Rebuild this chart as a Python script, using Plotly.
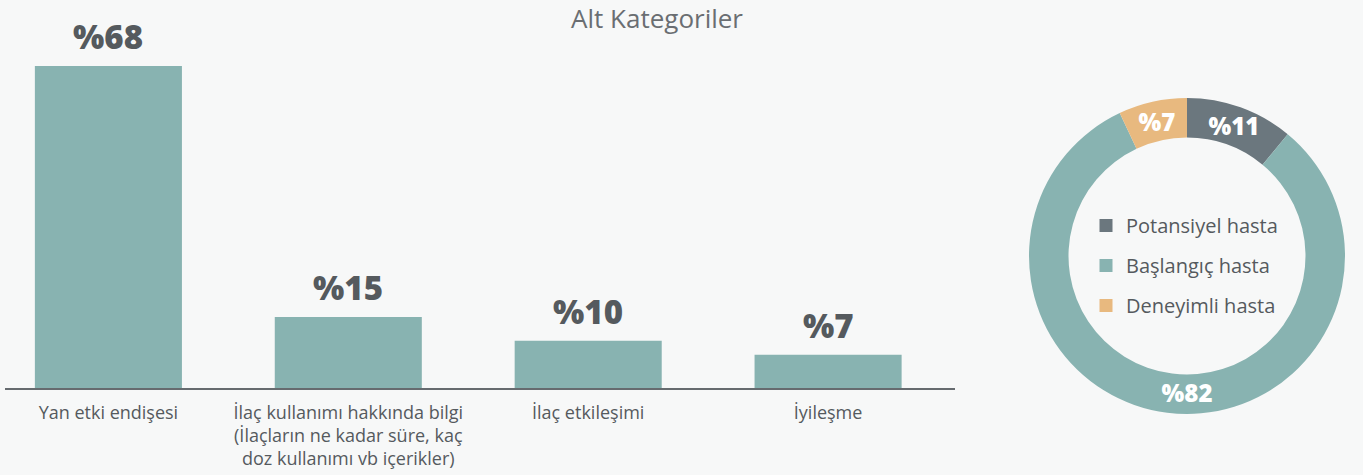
import plotly.graph_objects as go

# ---- data ----
bar_categories = [
    "Yan etki endişesi",
    "İlaç kullanımı hakkında bilgi<br>(İlaçların ne kadar süre, kaç<br>doz kullanımı vb içerikler)",
    "İlaç etkileşimi",
    "İyileşme",
]
bar_values = [68, 15, 10, 7]

pie_labels = ["Potansiyel hasta", "Başlangıç hasta", "Deneyimli hasta"]
pie_values = [11, 82, 7]

title_text = "Alt Kategoriler"

# ---- style ----
FONT = "Open Sans"
BG = "#f7f8f8"
TEAL = "#88b3b1"
DARK = "#6b777e"
ORANGE = "#e8b97f"
TXT = "#555a5e"
pie_colors = [DARK, TEAL, ORANGE]

W, H = 1363, 475

fig = go.Figure()

fig.add_trace(go.Bar(
    x=list(range(len(bar_categories))),
    y=bar_values,
    marker=dict(color=TEAL, line=dict(width=0)),
    width=0.613,
    showlegend=False,
    hoverinfo="skip",
))

for i, v in enumerate(bar_values):
    fig.add_annotation(
        x=i, y=v, xref="x", yref="y",
        text=f"%{v}", showarrow=False,
        yanchor="middle", yshift=29,
        font=dict(family=FONT, size=33, color=TXT, weight=800),
    )

fig.add_trace(go.Pie(
    labels=pie_labels,
    values=pie_values,
    hole=0.75,
    sort=False,
    direction="clockwise",
    rotation=0,
    marker=dict(colors=pie_colors, line=dict(width=0)),
    texttemplate="%%{value}",
    textposition="inside",
    insidetextorientation="horizontal",
    textfont=dict(family=FONT, size=24, color="white", weight=800),
    domain=dict(x=[(1187 - 158) / W, (1187 + 158) / W],
                y=[(H - 256 - 158) / H, (H - 256 + 158) / H]),
    showlegend=False,
))

# legend entries for the donut slices (spaced like the original)
for lab, col in zip(pie_labels, pie_colors):
    fig.add_trace(go.Scatter(
        x=[None], y=[None], mode="markers", name=lab, legendgroup=lab,
        marker=dict(symbol="square", size=13, color=col),
        xaxis="x", yaxis="y", showlegend=True,
    ))

fig.update_layout(
    width=W, height=H,
    paper_bgcolor=BG, plot_bgcolor=BG,
    margin=dict(l=0, r=0, t=0, b=0),
    font=dict(family=FONT, color=TXT),
    uniformtext=dict(minsize=24, mode="show"),
    title=dict(text=title_text, x=657 / W, xanchor="center", y=1 - 19 / H, yanchor="middle",
               font=dict(family=FONT, size=26, color="#6a6e72")),
    xaxis=dict(
        domain=[5 / W, 955 / W],
        range=[-0.431, 3.529],
        tickmode="array",
        tickvals=list(range(len(bar_categories))),
        ticktext=bar_categories,
        showline=True, linecolor="#666b6f", linewidth=2,
        showgrid=False, zeroline=False, ticks="",
        ticklabelstandoff=7,
        tickfont=dict(family=FONT, size=18, color=TXT),
        fixedrange=True,
    ),
    yaxis=dict(
        domain=[(H - 388) / H, (H - 66) / H],
        range=[0, 68],
        visible=False,
        showgrid=False, zeroline=False,
        fixedrange=True,
    ),
    legend=dict(
        x=1086 / W, y=(H - 206) / H, xanchor="left", yanchor="top",
        bgcolor="rgba(0,0,0,0)",
        tracegroupgap=11,
        font=dict(family=FONT, size=20, color=TXT),
    ),
)

fig.write_html(
    "out.html",
    config={"displayModeBar": False},
    post_script="document.body.style.margin='0';document.body.style.background='%s';" % BG,
)
